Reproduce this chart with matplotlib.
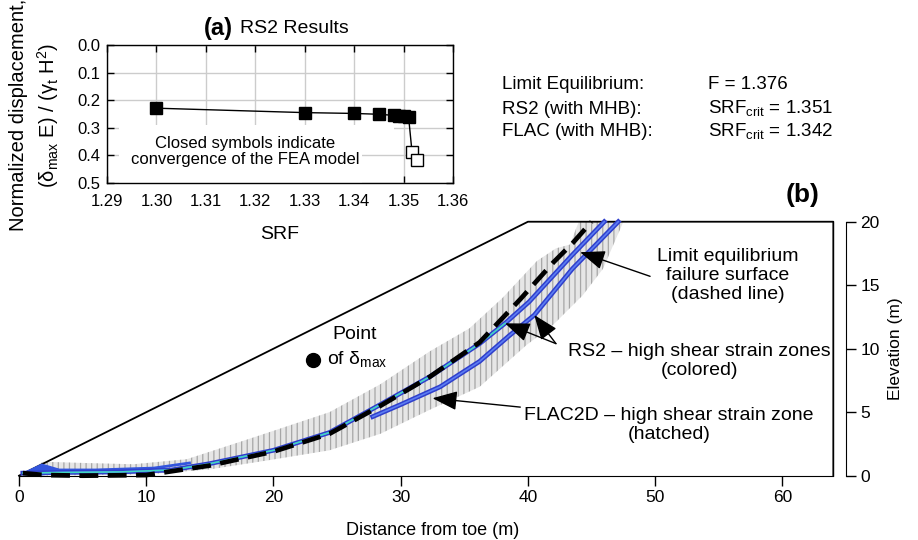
import matplotlib

matplotlib.use("Agg")
import matplotlib.pyplot as plt
from matplotlib.patches import Rectangle

plt.rcParams["font.family"] = ["Liberation Sans", "DejaVu Sans"]
plt.rcParams["hatch.color"] = "#a6a6a6"
plt.rcParams["hatch.linewidth"] = 0.9

# (a) RS2 results: normalized displacement vs SRF
srf_closed = [1.300, 1.330, 1.340, 1.345, 1.348, 1.349, 1.350, 1.351]
disp_closed = [0.229, 0.245, 0.248, 0.251, 0.255, 0.256, 0.257, 0.260]
srf_open = [1.3517, 1.3528]
disp_open = [0.387, 0.417]
srf_ticks = [1.29, 1.30, 1.31, 1.32, 1.33, 1.34, 1.35, 1.36]
disp_ticks = [0.0, 0.1, 0.2, 0.3, 0.4, 0.5]

# (b) slope geometry and failure surfaces (m)
slope_x = [0, 40, 64, 64]
slope_y = [0, 20, 20, 0]
le_x = [0.3, 2, 5, 10, 15, 20, 24.4, 28.4, 32.3, 36.2, 39.4, 42.0, 43.5, 45.0]
le_y = [0.2, 0.05, 0.0, 0.05, 0.8, 1.9, 3.3, 5.5, 7.8, 10.5, 13.9, 16.8, 18.3, 20.0]
rs2_a_x = [0.3, 3, 8, 12, 15, 20, 24.4, 28.4, 32.3, 36.2, 38.2, 40.1, 43.5, 46.0]
rs2_a_y = [0.2, 0.25, 0.3, 0.45, 0.95, 2.0, 3.4, 5.6, 7.8, 10.4, 12.0, 13.7, 17.4, 20.0]
rs2_b_x = [27.8, 30, 33.1, 36.2, 38.5, 40.5, 43.5, 47.1]
rs2_b_y = [4.65, 5.6, 7.0, 9.0, 11.0, 12.65, 16.3, 20.0]
rs2_toe_x = [0.2, 1.8, 3.0, 3.6, 1.5]
rs2_toe_y = [0.15, 0.9, 0.55, 0.25, 0.05]
rs2_streak_x = [3, 6, 10.6, 13.4]
rs2_streak_y = [0.45, 0.45, 0.6, 1.0]
flac_top_x = [0.3, 1.9, 5.1, 9, 13.2, 18.4, 24.4, 28.4, 32.3, 35.4, 38.0, 40.7, 42.2, 43.3, 43.8, 44.0]
flac_top_y = [0.1, 1.1, 1.0, 0.9, 1.3, 3.0, 5.0, 7.2, 9.8, 11.6, 14.0, 16.9, 17.9, 18.2, 19.5, 20.0]
flac_bot_x = [47.5, 45.9, 44.3, 42.0, 39.9, 36.2, 32.3, 28.4, 24.4, 19.5, 15.0, 10.0, 1.0]
flac_bot_y = [20.0, 16.3, 14.2, 11.9, 10.3, 7.0, 5.2, 3.3, 2.0, 1.2, 0.5, 0.1, 0.0]
dmax_x, dmax_y = 23.1, 9.1
dist_ticks = [0, 10, 20, 30, 40, 50, 60]
elev_ticks = [0, 5, 10, 15, 20]

fig = plt.figure(figsize=(9.18, 5.4), dpi=100)

# ---- main slope panel (b)
ax = fig.add_axes([0.0207, 0.1191, 0.9009, 0.4703])
ax.set_xlim(0, 65)
ax.set_ylim(0, 20)
for side in ("top", "left"):
    ax.spines[side].set_visible(False)
ax.spines["bottom"].set_bounds(0, 64)
ax.spines["right"].set_bounds(0, 20)
ax.yaxis.tick_right()
ax.yaxis.set_label_position("right")
ax.set_xticks(dist_ticks)
ax.set_yticks(elev_ticks)
ax.tick_params(direction="out", length=7, width=1, labelsize=12.5)
ax.set_xlabel("Distance from toe (m)", fontsize=13, labelpad=12)
ax.set_ylabel("Elevation (m)", fontsize=12.5, labelpad=6)

ax.plot(slope_x, slope_y, color="black", lw=1.3, clip_on=False)

band_x = flac_top_x + flac_bot_x
band_y = flac_top_y + flac_bot_y
ax.fill(band_x, band_y, facecolor="#e6e6e6", edgecolor="#a6a6a6", linewidth=0, hatch="|||",
        zorder=1, clip_on=False)

ax.fill(rs2_toe_x, rs2_toe_y, color="#3355dd", zorder=2)
ax.plot(rs2_streak_x, rs2_streak_y, color="#3355dd", lw=2, zorder=2)
for bx, by in ((rs2_a_x, rs2_a_y), (rs2_b_x, rs2_b_y)):
    ax.plot(bx, by, color="#2f3fcc", lw=3.4, zorder=2, clip_on=False)
    ax.plot(bx, by, color="#5c7df2", lw=1.2, zorder=2, clip_on=False)
ax.plot(rs2_a_x[:11], rs2_a_y[:11], color="#3fd8c0", lw=1.1, zorder=3)
ax.plot(le_x, le_y, color="black", lw=3.4, ls=(0, (4, 2)), zorder=4, clip_on=False)

ax.plot([dmax_x], [dmax_y], "o", color="black", ms=10, zorder=5)
ax.text(26.4, 11.1, "Point", ha="center", va="center", fontsize=14)
ax.text(24.2, 9.1, "of δ$_{\\mathregular{max}}$", ha="left", va="center", fontsize=14)

arrow = dict(arrowstyle="-|>,head_length=0.9,head_width=0.35", color="black", lw=1,
             mutation_scale=17, shrinkA=0, shrinkB=0)
ax.text(55.7, 15.8, "Limit equilibrium\nfailure surface\n(dashed line)", ha="center", va="center",
        fontsize=14, linespacing=1.15)
ax.annotate("", xy=(44.1, 17.6), xytext=(49.6, 15.7), arrowprops=arrow)
ax.text(53.5, 9.0, "RS2 – high shear strain zones\n(colored)", ha="center", va="center",
        fontsize=14, linespacing=1.15)
ax.annotate("", xy=(38.2, 12.0), xytext=(42.2, 10.4), arrowprops=arrow)
ax.annotate("", xy=(40.5, 12.65), xytext=(42.2, 10.4), arrowprops=arrow)
ax.text(51.1, 4.0, "FLAC2D – high shear strain zone\n(hatched)", ha="center", va="center",
        fontsize=14, linespacing=1.15)
ax.annotate("", xy=(32.5, 6.1), xytext=(39.4, 5.4), arrowprops=arrow)

fig.text(0.8747, 0.6389, "(b)", ha="center", va="center", fontsize=19, fontweight="bold")

# ---- summary text
rows = [("Limit Equilibrium:", "F = 1.376", 0.8426),
        ("RS2 (with MHB):", "SRF$_{\\mathregular{crit}}$ = 1.351", 0.7980),
        ("FLAC (with MHB):", "SRF$_{\\mathregular{crit}}$ = 1.342", 0.7561)]
for name, val, yy in rows:
    fig.text(0.5465, yy, name, ha="left", va="center", fontsize=13.5)
    fig.text(0.7712, yy, val, ha="left", va="center", fontsize=13.5)

# ---- inset (a)
axa = fig.add_axes([0.1166, 0.6611, 0.3769, 0.2556])
axa.set_xlim(1.29, 1.36)
axa.set_ylim(0.5, 0.0)
axa.set_xticks(srf_ticks)
axa.set_yticks(disp_ticks)
axa.set_xticklabels([f"{t:.2f}" for t in srf_ticks])
axa.set_yticklabels([f"{t:.1f}" for t in disp_ticks])
axa.grid(True, color="#cccccc", lw=1)
axa.set_axisbelow(True)
axa.tick_params(direction="in", length=5, width=1, top=True, right=True, labelsize=12)
axa.tick_params(axis="x", pad=8)
axa.tick_params(axis="y", pad=5)
for sp in axa.spines.values():
    sp.set_linewidth(1)
fig.text(0.305, 0.565, "SRF", ha="center", va="center", fontsize=14)
fig.text(0.020, 0.787, "Normalized displacement,", rotation=90, ha="center", va="center", fontsize=14.5)
fig.text(0.052, 0.787, "(δ$_{\\mathregular{max}}$ E) / (γ$_{\\mathregular{t}}$ H$^{\\mathregular{2}}$)",
         rotation=90, ha="center", va="center", fontsize=14.5)

axa.add_patch(Rectangle((1.2925, 0.29), 0.0555, 0.105, facecolor="white", edgecolor="none", zorder=1))
axa.add_patch(Rectangle((1.2925, 0.395), 0.0490, 0.105, facecolor="white", edgecolor="none", zorder=1))
axa.text(1.3179, 0.387, "Closed symbols indicate\nconvergence of the FEA model", ha="center", va="center",
         fontsize=12, linespacing=1.1, zorder=2)

axa.plot(srf_closed + srf_open, disp_closed + disp_open, color="black", lw=1, zorder=3)
axa.plot(srf_closed, disp_closed, "s", color="black", ms=8, zorder=4)
axa.plot(srf_open, disp_open, "s", mfc="white", mec="black", mew=1, ms=8, zorder=4)

fig.text(0.2222, 0.948, "(a)", ha="left", va="center", fontsize=17, fontweight="bold")
fig.text(0.2614, 0.948, "RS2 Results", ha="left", va="center", fontsize=14)

fig.savefig("out.png", dpi=100)
